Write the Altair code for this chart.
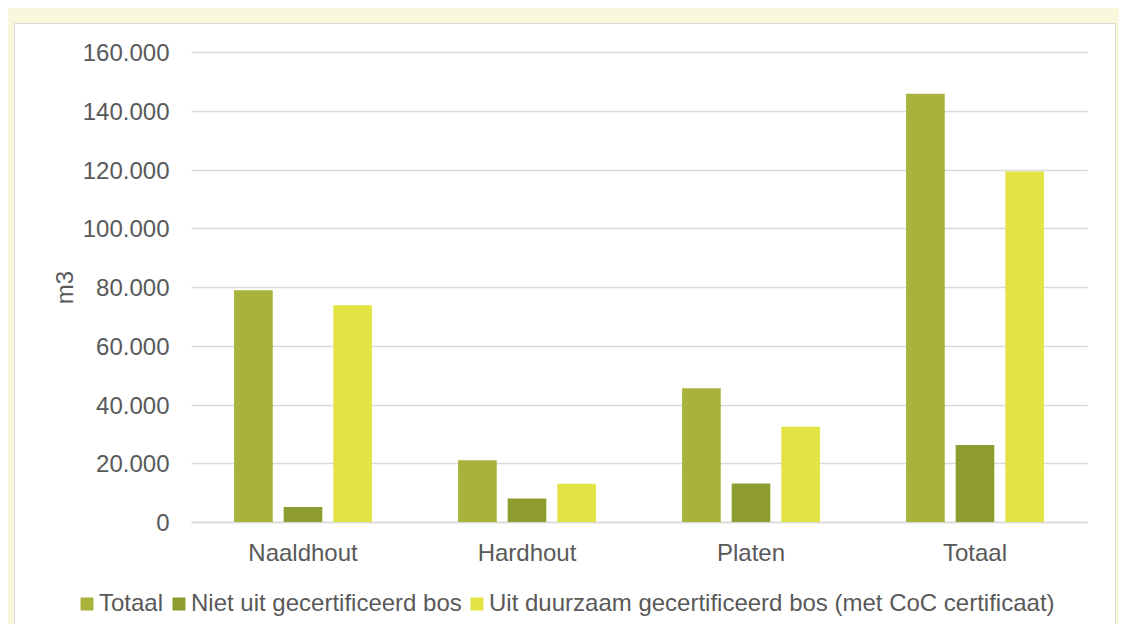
import altair as alt
import pandas as pd

categories = ["Naaldhout", "Hardhout", "Platen", "Totaal"]
series = ["Totaal", "Niet uit gecertificeerd bos",
          "Uit duurzaam gecertificeerd bos (met CoC certificaat)"]
totaal = [78900, 21000, 45500, 145800]
niet = [5100, 8000, 13100, 26200]
uit = [73800, 13000, 32400, 119300]
y_ticks = [0, 20000, 40000, 60000, 80000, 100000, 120000, 140000, 160000]
colors = ["#A9B23B", "#8F9C2F", "#E2E444"]

rows = []
for i, c in enumerate(categories):
    for s, vals in zip(series, [totaal, niet, uit]):
        rows.append({"cat": c, "series": s, "value": vals[i]})
df = pd.DataFrame(rows)

FONT = "Liberation Sans"
GRAY = "#595959"

bars = alt.Chart(df).mark_bar().encode(
    x=alt.X("cat:N", sort=categories,
            scale=alt.Scale(paddingInner=0.336, paddingOuter=0.168),
            axis=alt.Axis(title=None, labelFontSize=24, labelFont=FONT,
                          labelColor=GRAY, labelPadding=19, labelAngle=0,
                          ticks=False, tickSize=0, domain=True,
                          domainColor="#D9D9D9", domainWidth=1.5, grid=False)),
    xOffset=alt.XOffset("series:N", sort=series,
                        scale=alt.Scale(paddingInner=0.22, paddingOuter=0.11)),
    y=alt.Y("value:Q", scale=alt.Scale(domain=[0, 160000]),
            axis=alt.Axis(title="m3", titleFontSize=24, titleFont=FONT,
                          titleColor=GRAY, titleFontWeight="normal",
                          titleX=-119, titleY=235, titleAngle=270,
                          titleBaseline="alphabetic", titleAlign="center",
                          values=y_ticks,
                          labelExpr="replace(format(datum.value, ','), ',', '.')",
                          labelFontSize=24, labelFont=FONT, labelColor=GRAY,
                          labelPadding=22, labelOffset=1.5, ticks=False, tickSize=0,
                          domain=False, grid=True, gridColor="#D9D9D9",
                          gridWidth=1.3)),
    color=alt.Color("series:N", sort=series,
                    scale=alt.Scale(domain=series, range=colors),
                    legend=alt.Legend(title=None, orient="none", legendX=-116,
                                      legendY=540, direction="horizontal",
                                      symbolType="square", symbolSize=169,
                                      symbolStrokeWidth=0, labelFontSize=24,
                                      labelFont=FONT, labelColor=GRAY,
                                      labelOffset=0, columnPadding=3,
                                      padding=0, labelLimit=1000)),
)

one = pd.DataFrame({"d": [0]})
YEL = "#F8F8DC"
top_strip = alt.Chart(one).mark_rect(color=YEL).encode(
    x=alt.value(-183), x2=alt.value(928), y=alt.value(-44), y2=alt.value(-29))
left_strip = alt.Chart(one).mark_rect(color=YEL).encode(
    x=alt.value(-183), x2=alt.value(-177), y=alt.value(-44), y2=alt.value(590))
right_strip = alt.Chart(one).mark_rect(color=YEL).encode(
    x=alt.value(925), x2=alt.value(928), y=alt.value(-44), y2=alt.value(590))
border = alt.Chart(one).mark_rect(fillOpacity=0, stroke="#D9D9D9", strokeWidth=1).encode(
    x=alt.value(-176.5), x2=alt.value(924.5), y=alt.value(-28.5), y2=alt.value(600))

chart = alt.layer(bars, top_strip, left_strip, right_strip, border).properties(
    width=896, height=470, background="white",
    padding={"left": 183, "top": 44, "right": 32, "bottom": 102},
    autosize=alt.AutoSizeParams(type="none"),
).configure(font=FONT).configure_view(strokeWidth=0)

chart.save("out.html", embed_options={"renderer": "svg", "actions": False})
